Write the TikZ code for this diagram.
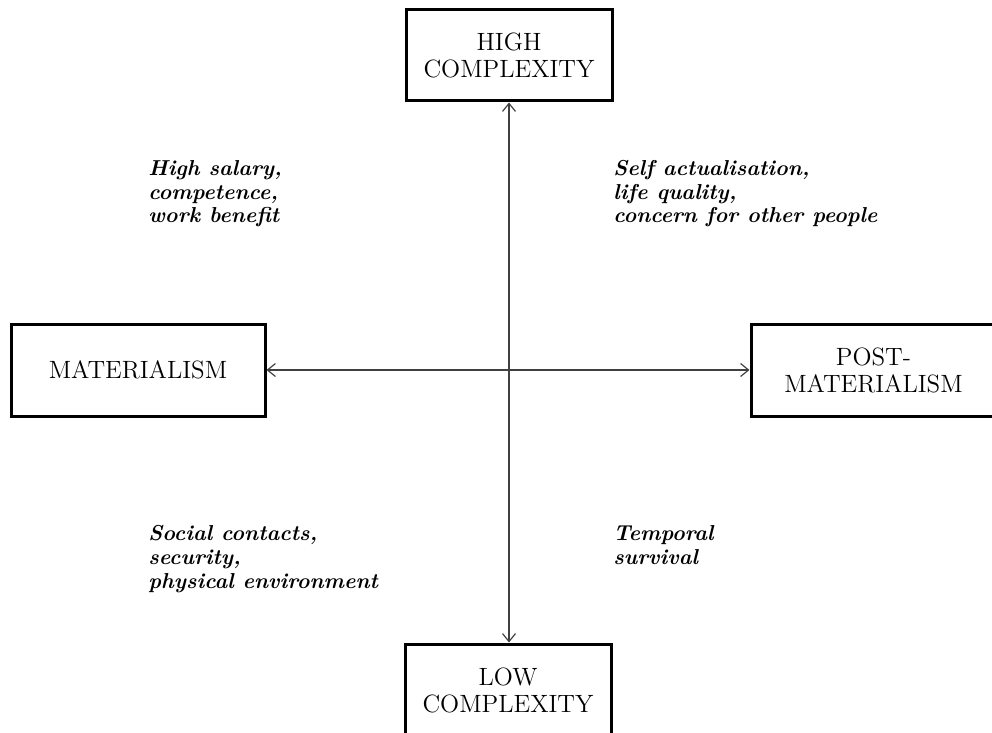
\documentclass[tikz,border=0pt]{standalone}
\usepackage{tikz}
\usetikzlibrary{arrows.meta,positioning}

\begin{document}
\begin{tikzpicture}[x=0.5pt,y=-0.5pt,>={Straight Barb[length=4pt,width=6.5pt]},
	pole/.style={draw,line width=1.5pt,align=center,inner sep=0pt,
		font=\fontsize{12.5}{13.5}\selectfont},
	value/.style={anchor=base west,align=left,inner sep=0pt,
		font=\fontsize{10.8}{12}\selectfont\bfseries\itshape},
	axis/.style={<->,draw=black!75,line width=0.6pt}]
	\useasboundingbox (0,0) rectangle (992,733);
	% Poles
	\node[pole,minimum width=103pt,minimum height=45.5pt]   (high) at (509,55.5) {HIGH\\COMPLEXITY};
	\node[pole,minimum width=103pt,minimum height=46pt]     (low)  at (508,690)  {LOW\\COMPLEXITY};
	\node[pole,minimum width=127pt,minimum height=46pt]     (mat)  at (138,370)  {MATERIALISM};
	\node[pole,minimum width=122.5pt,minimum height=46pt]   (post) at (873.5,370) {POST-\\MATERIALISM};
	% Axes
	\draw[axis] (high.south) -- (high.south |- low.north);
	\draw[axis] (mat.east) -- (post.west);
	% Values in the quadrants (base is the last line)
	\node[value] (upper left)  at (148,223) {High salary,\\competence,\\work benefit};
	\node[value] (upper right) at (613,223) {Self actualisation,\\life quality,\\concern for other people};
	\node[value] (lower left)  at (148,588) {Social contacts,\\security,\\physical environment};
	\node[value] (lower right) at (613,564) {Temporal\\survival};
\end{tikzpicture}
\end{document}
